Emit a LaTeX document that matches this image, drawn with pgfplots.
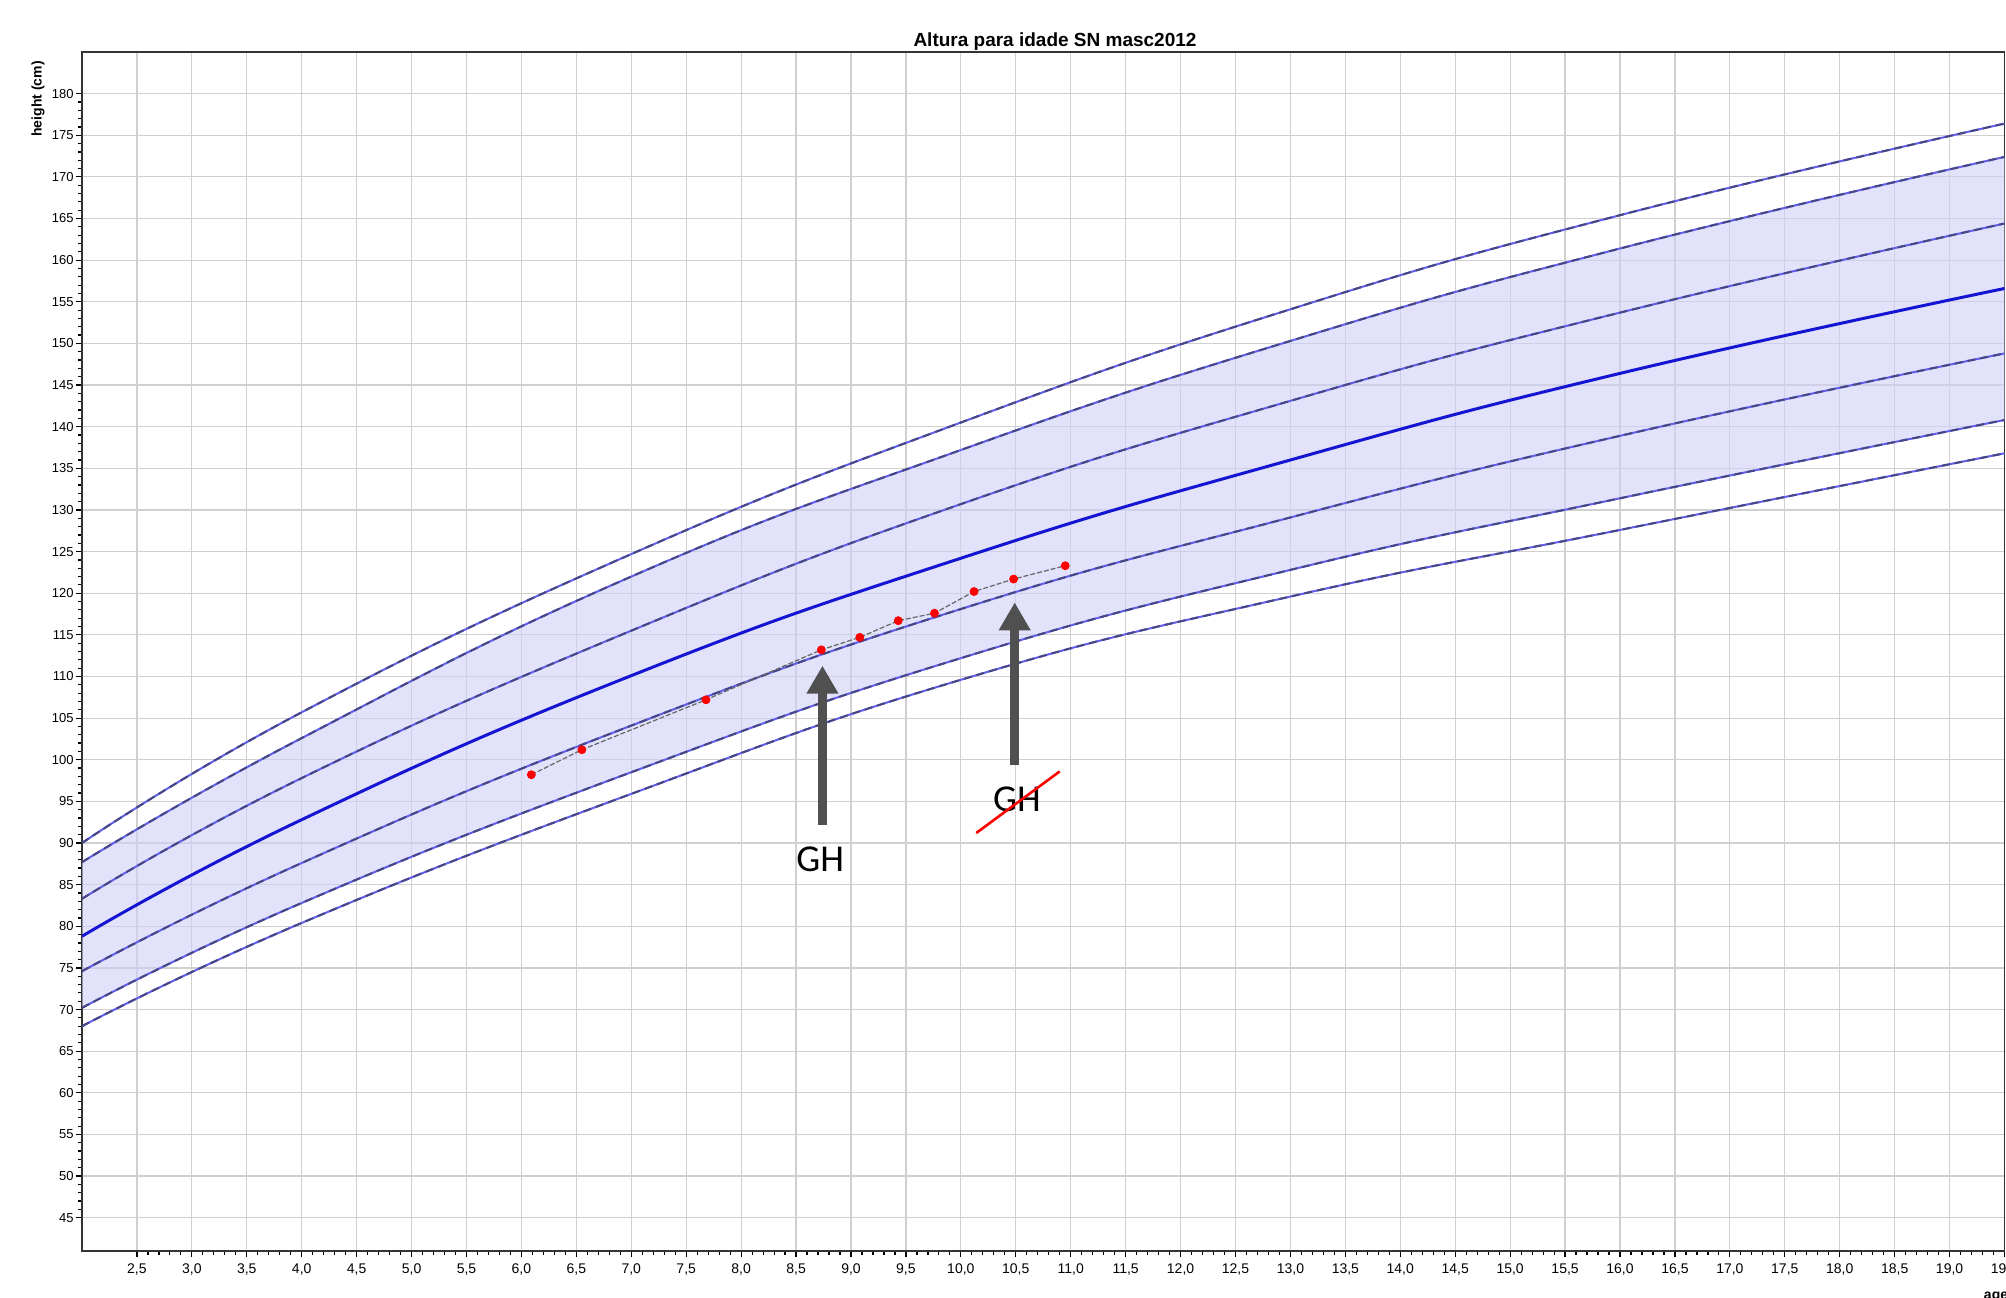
\documentclass[border=0pt]{standalone}
\usepackage{fontspec}
\setmainfont{Liberation Sans}
\newfontfamily\calibri{Carlito}
\usepackage{pgfplots}
\pgfplotsset{compat=1.18}
\usepackage{pgfplotstable}
\usepgfplotslibrary{fillbetween}
\usetikzlibrary{arrows.meta}

\pgfplotstableread{
age  c1    c2    c3    c4    c5    c6    c7
2.0  90.0  87.7  83.3  78.8  74.6  70.2  68.0
4.0  105.7 102.6 97.8  92.8  87.6  82.8  80.4
7.0  124.7 122.0 115.5 110.1 104.1 98.5  95.9
10.0 140.5 137.2 130.7 124.2 118.1 112.2 109.6
13.0 154.1 150.3 143.1 136.0 129.1 122.8 119.6
16.0 165.4 161.4 153.7 146.4 138.9 131.4 127.6
19.5 176.4 172.4 164.4 156.6 148.8 140.8 136.8
}\curves

\pgfplotstableread{
age   h
6.09  98.2
6.55  101.2
7.68  107.2
8.73  113.2
9.08  114.7
9.43  116.7
9.76  117.6
10.12 120.2
10.48 121.7
10.95 123.3
}\patient

\definecolor{pctblue}{RGB}{95,95,235}
\definecolor{pctdark}{RGB}{70,70,130}
\definecolor{medblue}{RGB}{20,20,210}
\definecolor{bandfill}{RGB}{207,207,247}
\definecolor{gridgray}{RGB}{208,208,208}
\definecolor{arrowgray}{RGB}{80,80,80}

\pgfplotsset{
  pctbase/.style={no marks, color=pctblue, line width=1.0pt, smooth, tension=0.8},
  pctdash/.style={no marks, color=pctdark, line width=1.0pt, smooth, tension=0.8, dash pattern=on 4pt off 2.5pt},
}

\begin{document}
\begin{tikzpicture}[x=1pt,y=1pt]
\begin{axis}[
  at={(41pt,23pt)}, anchor=south west,
  scale only axis, width=961.25pt, height=599.5pt,
  xmin=2, xmax=19.5, ymin=41, ymax=185,
  xtick={2.5,3,3.5,4,4.5,5,5.5,6,6.5,7,7.5,8,8.5,9,9.5,10,10.5,11,11.5,12,12.5,13,13.5,14,14.5,15,15.5,16,16.5,17,17.5,18,18.5,19,19.5},
  minor x tick num=4,
  ytick={45,50,...,180},
  minor y tick num=4,
  grid=major,
  major grid style={gridgray, line width=0.6pt},
  tick align=outside, xtick pos=bottom, ytick pos=left,
  major tick length=3pt, minor tick length=2pt,
  tick style={black, line width=0.6pt},
  axis line style={black!80, line width=0.8pt},
  /pgf/number format/assume math mode=true,
  xticklabel style={font=\fontsize{7}{8}\selectfont, /pgf/number format/fixed, /pgf/number format/fixed zerofill, /pgf/number format/precision=1, /pgf/number format/use comma},
  yticklabel style={font=\fontsize{6.5}{8}\selectfont, inner xsep=1pt},
]
% named boundaries of the shaded band
\addplot[name path=c2, draw=none, smooth, tension=0.8, forget plot] table[x=age,y=c2]{\curves};
\addplot[name path=c6, draw=none, smooth, tension=0.8, forget plot] table[x=age,y=c6]{\curves};
\addplot[fill=bandfill, fill opacity=0.6, draw=none] fill between[of=c2 and c6];

% percentile curves
\addplot[pctbase] table[x=age,y=c1]{\curves};
\addplot[pctdash] table[x=age,y=c1]{\curves};
\addplot[pctbase] table[x=age,y=c2]{\curves};
\addplot[pctdash] table[x=age,y=c2]{\curves};
\addplot[pctbase] table[x=age,y=c3]{\curves};
\addplot[pctdash] table[x=age,y=c3]{\curves};
\addplot[no marks, smooth, tension=0.8, color=medblue, line width=1.5pt] table[x=age,y=c4]{\curves};
\addplot[pctbase] table[x=age,y=c5]{\curves};
\addplot[pctdash] table[x=age,y=c5]{\curves};
\addplot[pctbase] table[x=age,y=c6]{\curves};
\addplot[pctdash] table[x=age,y=c6]{\curves};
\addplot[pctbase] table[x=age,y=c7]{\curves};
\addplot[pctdash] table[x=age,y=c7]{\curves};

% patient
\addplot[color=black!60, line width=0.6pt, dash pattern=on 2.5pt off 1pt,
  mark=*, mark size=1.9pt, mark options={solid, fill=red, draw=red}]
  table[x=age,y=h]{\patient};

% annotations
\draw[arrowgray, line width=4.5pt, -{Triangle[width=15pt,length=14pt]}]
  (axis cs:8.74,92.2) -- (axis cs:8.74,111.3);
\draw[arrowgray, line width=4.5pt, -{Triangle[width=15pt,length=14pt]}]
  (axis cs:10.49,99.4) -- (axis cs:10.49,118.9);
\node[font=\calibri\fontsize{19}{21}\selectfont] at (axis cs:8.72,88.0) {GH};
\node[font=\calibri\fontsize{19}{21}\selectfont] at (axis cs:10.51,95.2) {GH};
\draw[red, line width=1.3pt] (axis cs:10.14,91.2) -- (axis cs:10.9,98.6);
\end{axis}

\node[anchor=base, font=\bfseries\fontsize{9.5}{12}\selectfont] at (527.5pt,625pt) {Altura para idade SN masc2012};
\node[rotate=90, font=\bfseries\fontsize{7}{8}\selectfont] at (19pt,599pt) {height (cm)};
\node[anchor=north, font=\bfseries\fontsize{7}{8}\selectfont] at (998pt,6pt) {age};

\pgfresetboundingbox
\useasboundingbox (0pt,0pt) rectangle (1003pt,648.5pt);
\end{tikzpicture}
\end{document}
